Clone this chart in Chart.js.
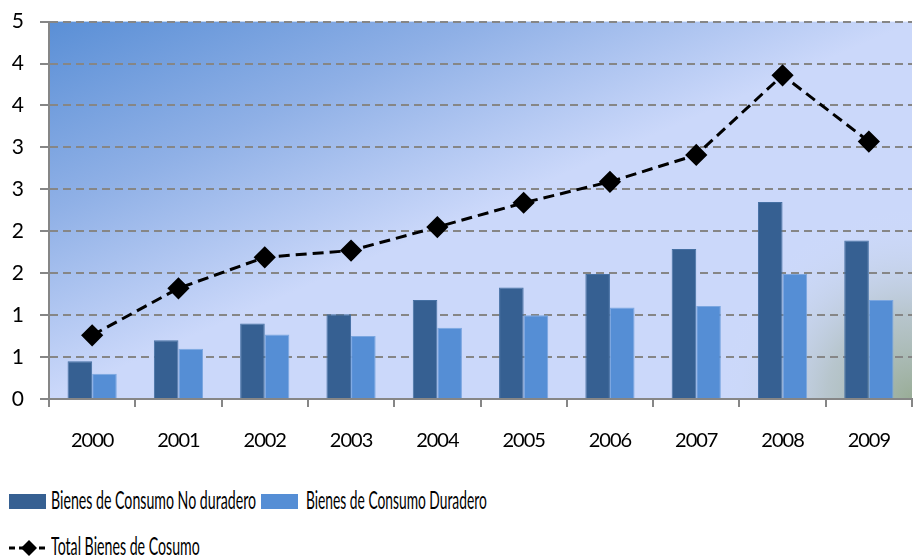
<!DOCTYPE html>
<html>
<head>
<meta charset="utf-8">
<script src="https://cdn.jsdelivr.net/npm/chart.js@4"></script>
<style>
    html, body { margin: 0; padding: 0; background: #fff; overflow: hidden; }
    #wrap { position: relative; width: 913px; height: 558px; overflow: hidden; }
    #myChart { position: absolute; left: 0; top: -8px; }
    .lg { position: absolute; font-family: Lato, sans-serif; font-size: 25px; line-height: 25px; color: #000;
        white-space: nowrap; transform-origin: 0 50%; }
    .box { position: absolute; width: 37px; height: 15px; }
</style>
</head>
<body>
<div id="wrap">
    <canvas id="myChart" width="924" height="468"></canvas>
    <span class="box" style="left:9px; top:494px; background:#366092"></span>
    <span class="lg" id="lg1" style="left:51px; top:487px;">Bienes de Consumo No duradero</span>
    <span class="box" style="left:261px; top:494px; background:#558ed5"></span>
    <span class="lg" id="lg2" style="left:306px; top:487px;">Bienes de Consumo Duradero</span>
    <svg style="position:absolute; left:9px; top:538px" width="40" height="20">
        <line x1="0" y1="10" x2="40" y2="10" stroke="#000" stroke-width="3" stroke-dasharray="6,4"></line>
        <polygon points="20,2 28,10 20,18 12,10" fill="#000"></polygon>
    </svg>
    <span class="lg" id="lg3" style="left:51px; top:533px;">Total Bienes de Cosumo</span>
</div>
<script>
const labels = ["2000", "2001", "2002", "2003", "2004", "2005", "2006", "2007", "2008", "2009"];
const noDuradero = [0.45, 0.70, 0.90, 1.01, 1.18, 1.33, 1.49, 1.79, 2.35, 1.89];
const duradero = [0.30, 0.60, 0.77, 0.75, 0.85, 1.00, 1.09, 1.11, 1.49, 1.18];
const total = [0.76, 1.32, 1.69, 1.77, 2.05, 2.34, 2.59, 2.91, 3.86, 3.07];

// the legend text in the picture is squeezed, fit it to the same widths
var legendWidths = { lg1: 205, lg2: 181, lg3: 149 };
for (var id in legendWidths) {
    var el = document.getElementById(id);
    el.style.transform = 'scaleX(' + (legendWidths[id] / el.offsetWidth) + ')';
}

// gradient behind the plot area
const plotBackground = {
    id: 'plotBackground',
    beforeDraw: function(chart) {
        var ctx = chart.ctx;
        var a = chart.chartArea;
        ctx.save();
        var g = ctx.createLinearGradient(a.left, a.top, a.left + 138, a.top + 317);
        g.addColorStop(0, '#5a8fd6');
        g.addColorStop(0.5, '#8fb0e6');
        g.addColorStop(1, '#cbd8fa');
        ctx.fillStyle = g;
        ctx.fillRect(a.left, a.top, a.right - a.left, a.bottom - a.top);
        var r = ctx.createRadialGradient(a.right, a.bottom, 0, a.right, a.bottom, 190);
        r.addColorStop(0, 'rgba(150,170,145,0.95)');
        r.addColorStop(0.45, 'rgba(170,185,175,0.6)');
        r.addColorStop(1, 'rgba(211,222,252,0)');
        ctx.fillStyle = r;
        ctx.fillRect(a.left, a.top, a.right - a.left, a.bottom - a.top);
        ctx.restore();
        ctx.letterSpacing = '-1px';
    }
};

const data = {
    labels: labels,
    datasets: [
        {
            type: 'line',
            label: 'Total Bienes de Cosumo',
            data: total,
            order: 0,
            borderColor: '#000',
            borderWidth: 3,
            borderDash: [11, 6],
            pointStyle: 'rectRot',
            pointRadius: 9,
            pointBackgroundColor: '#000',
            pointBorderColor: '#000',
            fill: false,
            tension: 0,
        },
        {
            type: 'bar',
            label: 'Bienes de Consumo No duradero',
            data: noDuradero,
            order: 1,
            backgroundColor: '#366092',
            borderColor: '#4570a3',
            borderWidth: 1,
            barPercentage: 1,
            categoryPercentage: 0.57,
        },
        {
            type: 'bar',
            label: 'Bienes de Consumo Duradero',
            data: duradero,
            order: 1,
            backgroundColor: '#558ed5',
            borderColor: '#7ba6e0',
            borderWidth: 1,
            barPercentage: 1,
            categoryPercentage: 0.57,
        },
    ],
};

const config = {
    type: 'bar',
    data: data,
    plugins: [plotBackground],
    options: {
        responsive: false,
        animation: false,
        layout: {
            padding: { top: 10, right: 0, bottom: 0, left: 0 },
        },
        plugins: {
            legend: { display: false },
            tooltip: { enabled: false },
        },
        scales: {
            x: {
                afterFit: function(scale) { scale.height = 61; },
                grid: {
                    offset: true,
                    drawOnChartArea: false,
                    drawTicks: true,
                    tickLength: 8,
                    color: '#868686',
                    lineWidth: 2,
                },
                border: { display: true, color: '#868686', width: 2 },
                ticks: { color: '#000', font: { family: 'Lato', size: 20 }, padding: 22, maxRotation: 0 },
            },
            y: {
                min: 0,
                max: 4.5,
                afterFit: function(scale) { scale.width = 49; },
                grid: {
                    color: '#868686',
                    lineWidth: 2,
                    tickBorderDash: [8, 5],
                    tickLength: 9,
                },
                border: { display: true, color: '#868686', width: 2, dash: [8, 5] },
                ticks: {
                    stepSize: 0.5,
                    color: '#000',
                    font: { family: 'Lato', size: 21 },
                    padding: 17,
                    callback: function(value) { return Math.round(value); },
                },
            },
        },
    },
};

const myChart = new Chart(document.getElementById('myChart'), config);
</script>
</body>
</html>
